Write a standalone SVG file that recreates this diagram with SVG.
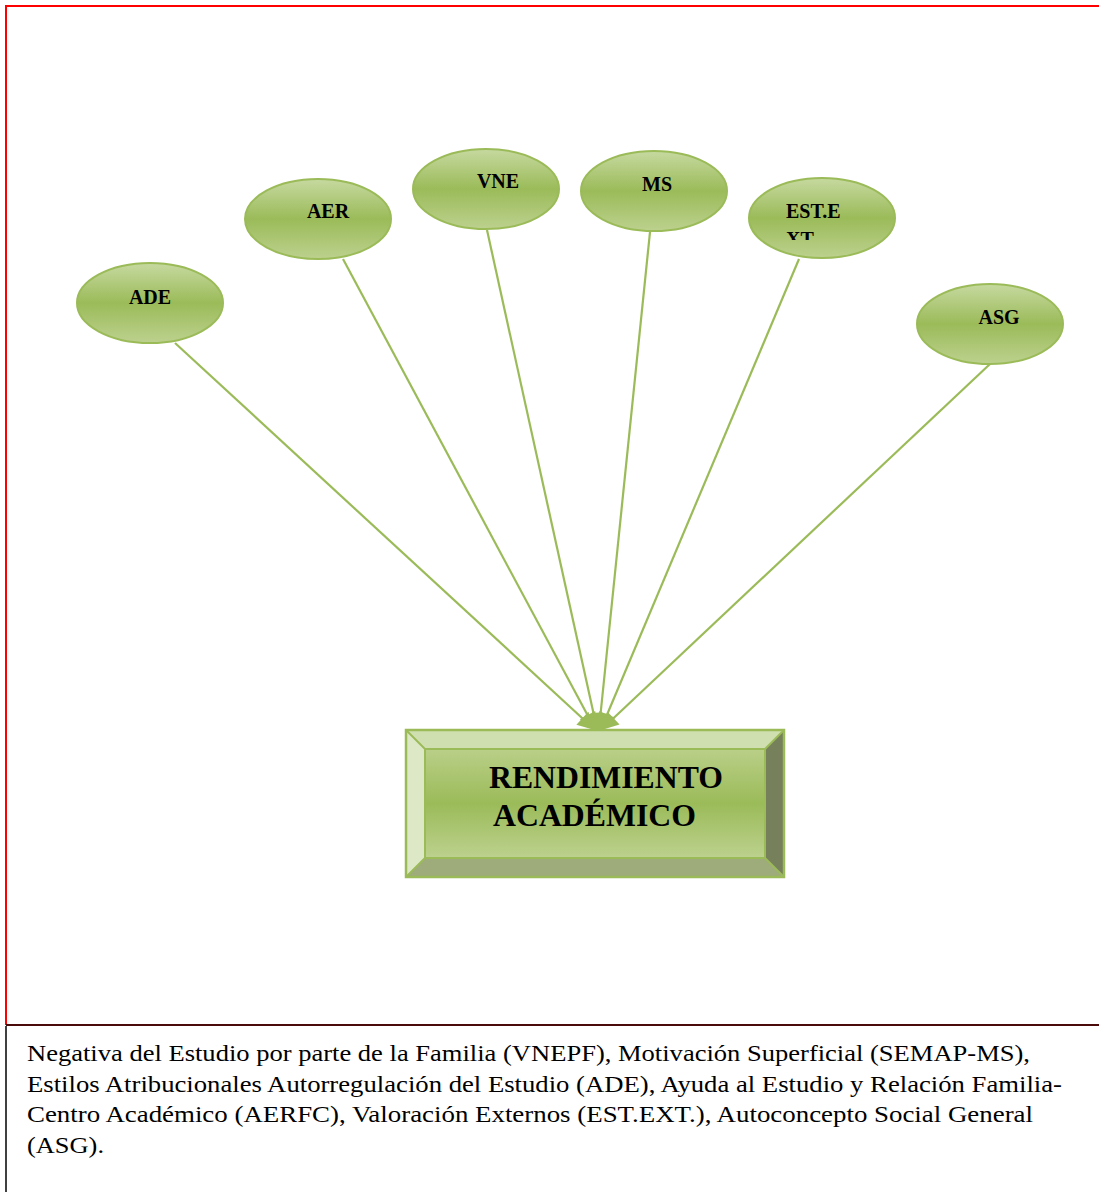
<svg xmlns="http://www.w3.org/2000/svg" width="1099" height="1192" viewBox="0 0 1099 1192">
  <defs>
    <linearGradient id="ovalFill" x1="0" y1="0" x2="0" y2="1">
      <stop offset="0" stop-color="#c6d9a0"/>
      <stop offset="0.5" stop-color="#9bbb59"/>
      <stop offset="1" stop-color="#bcd18e"/>
    </linearGradient>
    <linearGradient id="boxFill" x1="0" y1="0" x2="0" y2="1">
      <stop offset="0" stop-color="#b9cf88"/>
      <stop offset="0.5" stop-color="#9bbb59"/>
      <stop offset="1" stop-color="#bcd18e"/>
    </linearGradient>
    <marker id="arrow" viewBox="0 0 10 10" refX="9" refY="5" markerWidth="9" markerHeight="8" markerUnits="strokeWidth" orient="auto">
      <path d="M0,0 L10,5 L0,10 Z" fill="#9bbb59"/>
    </marker>
    <clipPath id="estClip">
      <rect x="750" y="190" width="144" height="50"/>
    </clipPath>
  </defs>
  <style>
    .oval { fill: url(#ovalFill); stroke: #9bbb59; stroke-width: 2; }
    .label { font-family: "Liberation Serif", "Times New Roman", serif; font-weight: bold; font-size: 20px; fill: #000; }
    .link { stroke: #9bbb59; stroke-width: 2.2; fill: none; marker-end: url(#arrow); }
    .title { font-family: "Liberation Serif", "Times New Roman", serif; font-weight: bold; font-size: 31px; fill: #000; }
    .note { font-family: "Liberation Serif", "Times New Roman", serif; font-size: 24px; fill: #000; }
  </style>

  <rect width="1099" height="1192" fill="#fff"/>

  <!-- frame -->
  <g id="frame">
    <path d="M6,1025 V6 H1099" fill="none" stroke="#ff0000" stroke-width="2"/>
    <line x1="6" y1="1025" x2="1099" y2="1025" stroke="#4a0a0a" stroke-width="2"/>
    <line x1="6" y1="1026" x2="6" y2="1192" stroke="#000" stroke-width="1.5"/>
  </g>

  <!-- connectors -->
  <g id="connectors">
    <line class="link" x1="175" y1="343" x2="594" y2="729"/>
    <line class="link" x1="343" y1="259" x2="595" y2="729"/>
    <line class="link" x1="487" y1="230" x2="597" y2="729"/>
    <line class="link" x1="650" y1="232" x2="599" y2="729"/>
    <line class="link" x1="799" y1="259" x2="601" y2="729"/>
    <line class="link" x1="990" y1="364" x2="602" y2="729"/>
  </g>

  <g id="node-ade">
    <ellipse class="oval" cx="150" cy="303" rx="73" ry="40"/>
    <text class="label" x="150" y="304" text-anchor="middle">ADE</text>
  </g>
  <g id="node-aer">
    <ellipse class="oval" cx="318" cy="219" rx="73" ry="40"/>
    <text class="label" x="328" y="218" text-anchor="middle">AER</text>
  </g>
  <g id="node-vne">
    <ellipse class="oval" cx="486" cy="189" rx="73" ry="40"/>
    <text class="label" x="498" y="188" text-anchor="middle">VNE</text>
  </g>
  <g id="node-ms">
    <ellipse class="oval" cx="654" cy="191" rx="73" ry="40"/>
    <text class="label" x="657" y="191" text-anchor="middle">MS</text>
  </g>
  <g id="node-estext">
    <ellipse class="oval" cx="822" cy="218" rx="73" ry="40"/>
    <g clip-path="url(#estClip)">
      <text class="label" x="786" y="218">EST.E</text>
      <text class="label" x="786" y="246">XT</text>
    </g>
  </g>
  <g id="node-asg">
    <ellipse class="oval" cx="990" cy="324" rx="73" ry="40"/>
    <text class="label" x="999" y="324" text-anchor="middle">ASG</text>
  </g>

  <!-- bevelled result box -->
  <g id="node-rendimiento">
    <polygon points="406,730 784,730 765,749 425,749" fill="#d0dfb0"/>
    <polygon points="406,730 425,749 425,858 406,877" fill="#dde8c7"/>
    <polygon points="784,730 784,877 765,858 765,749" fill="#76805b"/>
    <polygon points="406,877 425,858 765,858 784,877" fill="#9eab7b"/>
    <rect x="425" y="749" width="340" height="109" fill="url(#boxFill)" stroke="#9bbb59" stroke-width="2"/>
    <g stroke="#9bbb59" stroke-width="2">
      <line x1="406" y1="730" x2="425" y2="749"/>
      <line x1="784" y1="730" x2="765" y2="749"/>
      <line x1="406" y1="877" x2="425" y2="858"/>
      <line x1="784" y1="877" x2="765" y2="858"/>
    </g>
    <rect x="406" y="730" width="378" height="147" fill="none" stroke="#9bbb59" stroke-width="2.5"/>
    <text class="title" x="489" y="788" textLength="234" lengthAdjust="spacingAndGlyphs">RENDIMIENTO</text>
    <text class="title" x="493" y="826" textLength="203" lengthAdjust="spacingAndGlyphs">ACADÉMICO</text>
  </g>

  <!-- legend -->
  <g id="legend">
    <text class="note" x="27" y="1061" textLength="1003" lengthAdjust="spacingAndGlyphs">Negativa del Estudio por parte de la Familia (VNEPF), Motivación Superficial (SEMAP-MS),</text>
    <text class="note" x="27" y="1092" textLength="1035" lengthAdjust="spacingAndGlyphs">Estilos Atribucionales Autorregulación del Estudio (ADE), Ayuda al Estudio y Relación Familia-</text>
    <text class="note" x="27" y="1122" textLength="1006" lengthAdjust="spacingAndGlyphs">Centro Académico (AERFC), Valoración Externos (EST.EXT.), Autoconcepto Social General</text>
    <text class="note" x="27" y="1153" textLength="77" lengthAdjust="spacingAndGlyphs">(ASG).</text>
  </g>
</svg>
